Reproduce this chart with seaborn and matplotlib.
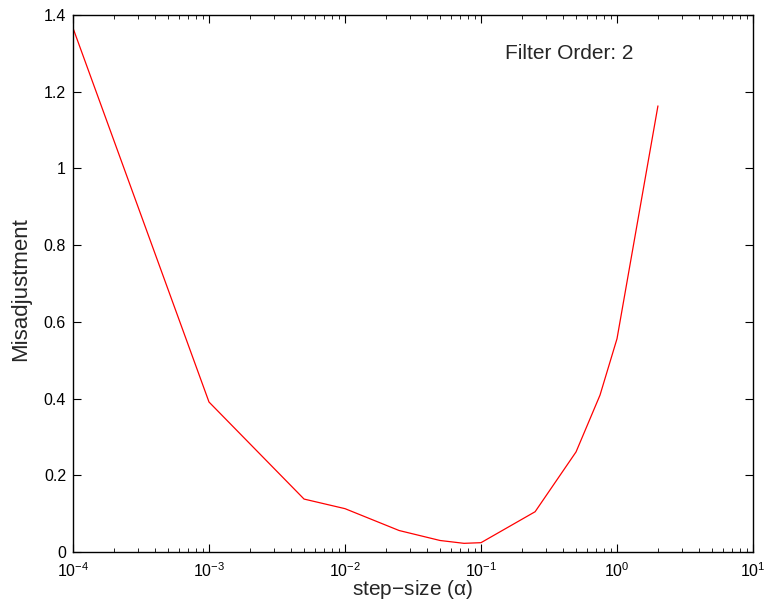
import matplotlib
matplotlib.use("Agg")
import matplotlib.pyplot as plt
import matplotlib.ticker as mticker
import seaborn as sns
import pandas as pd

step_size = [1e-4, 1e-3, 5e-3, 1e-2, 2.5e-2, 5e-2, 7.5e-2, 1e-1, 2.5e-1, 5e-1, 7.5e-1, 1.0, 2.0]
misadjustment = [1.366, 0.391, 0.138, 0.113, 0.056, 0.030, 0.0226, 0.0243, 0.105, 0.261, 0.409, 0.556, 1.163]
y_ticks = [0, 0.2, 0.4, 0.6, 0.8, 1.0, 1.2, 1.4]
y_tick_labels = ["0", "0.2", "0.4", "0.6", "0.8", "1", "1.2", "1.4"]
annotation = "Filter Order: 2"

sns.set_style("ticks")
plt.rcParams["font.family"] = ["Liberation Sans", "DejaVu Sans"]
plt.rcParams["mathtext.fontset"] = "custom"
plt.rcParams["mathtext.rm"] = "Liberation Sans"
plt.rcParams["mathtext.it"] = "Liberation Sans"

df = pd.DataFrame({"step": step_size, "mis": misadjustment})

fig = plt.figure(figsize=(7.67, 6.03), dpi=100)
ax = fig.add_axes([73/767, 51/603, 680/767, 537/603])
sns.lineplot(data=df, x="step", y="mis", color="red", linewidth=0.9, ax=ax, sort=False)
ax.set_xscale("log")
ax.set_xlim(1e-4, 1e1)
ax.set_ylim(0, 1.4)
ax.set_yticks(y_ticks)
ax.set_yticklabels(y_tick_labels)
ax.xaxis.set_major_locator(mticker.LogLocator(base=10, numticks=10))
ax.xaxis.set_minor_locator(mticker.LogLocator(base=10, subs=range(2, 10), numticks=20))
ax.xaxis.set_minor_formatter(mticker.NullFormatter())

for s in ax.spines.values():
    s.set_visible(True)
    s.set_linewidth(1.0)
    s.set_color("black")

ax.tick_params(which="both", direction="in", top=True, right=True, colors="black", labelsize=11.5)
ax.tick_params(which="major", length=6, width=0.8)
ax.tick_params(which="minor", length=3, width=0.6)
ax.tick_params(axis="x", pad=7)
ax.tick_params(axis="y", pad=5)

ax.set_xlabel(r"step$-$size ($\alpha$)", fontsize=15)
ax.xaxis.set_label_coords(0.5, -0.048)
ax.set_ylabel("Misadjustment", fontsize=16)
ax.yaxis.set_label_coords(-0.062, 0.49)
ax.text(0.15, 1.30, annotation, fontsize=15, va="center", ha="left")

fig.savefig("out.png", dpi=100)
